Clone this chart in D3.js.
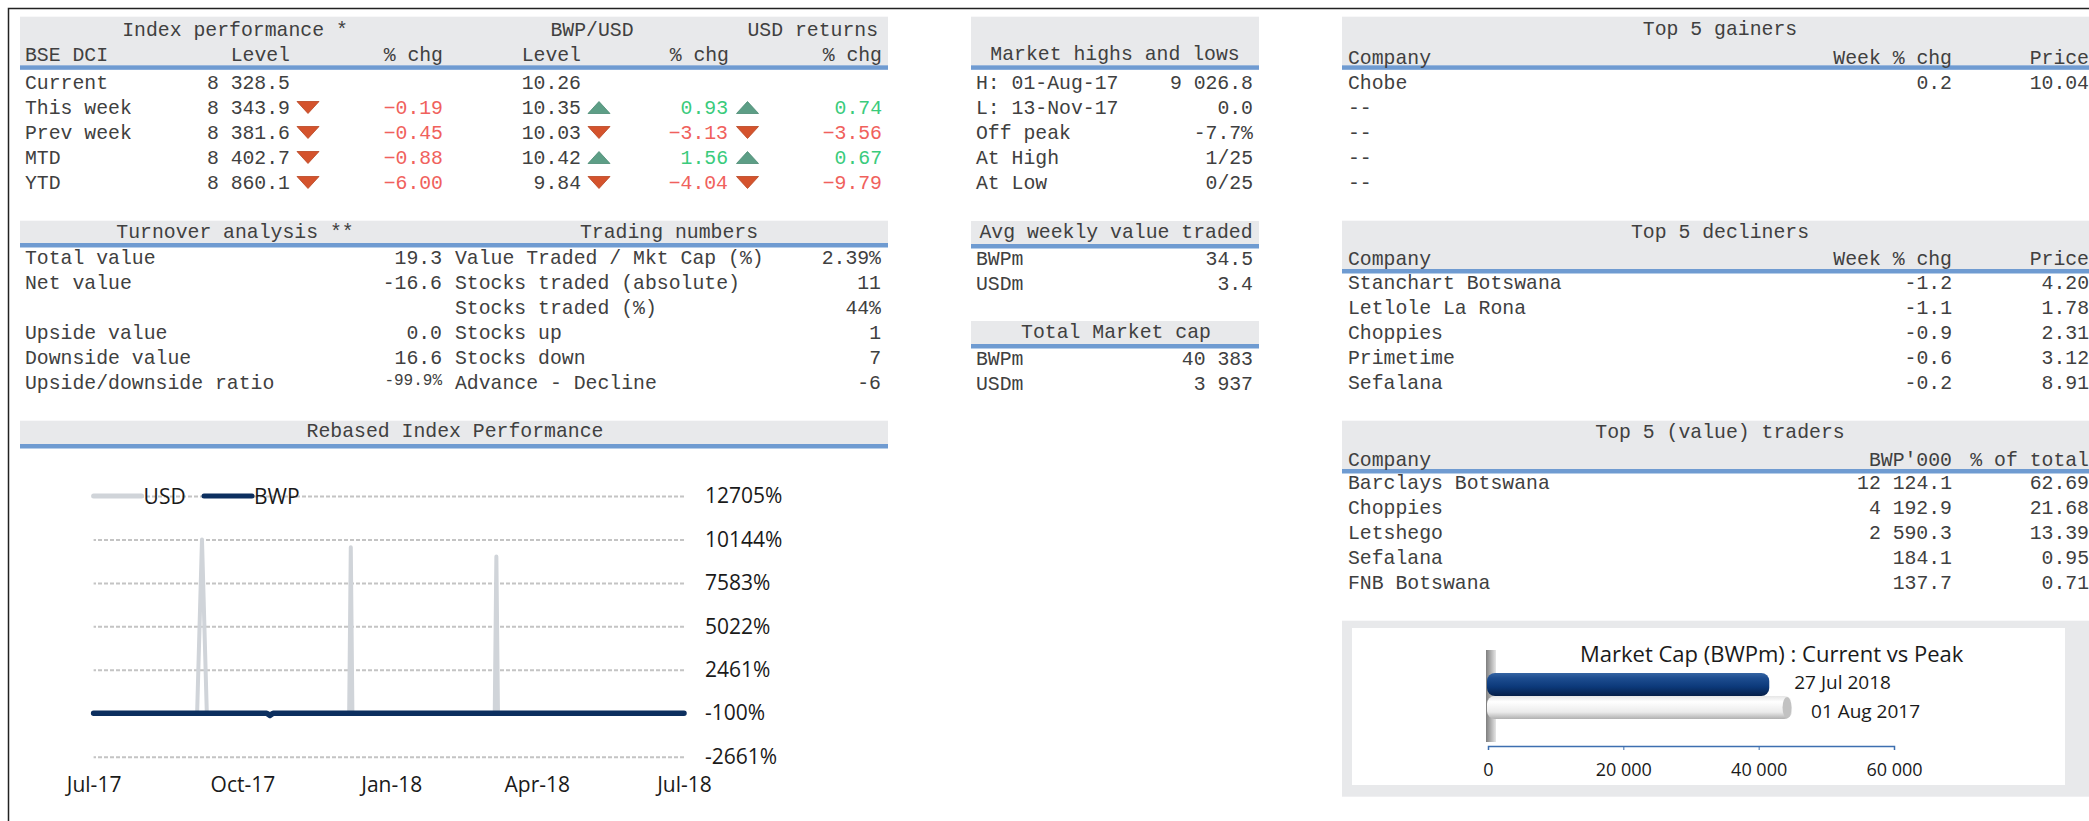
<!DOCTYPE html>
<html>
<head>
<meta charset="utf-8">
<script src="https://cdn.jsdelivr.net/npm/d3@7"></script>
<style>
  body { margin: 0; background: #fff; }
  .mono { font-family: "Liberation Mono", "Courier New", monospace; font-size: 19.8px; fill: #404040; }
  .sans { font-family: "Open Sans", sans-serif; fill: #1a1a1a; }
</style>
</head>
<body>
<div id="chart"></div>
<script>
// ---------- data ----------
const perfLabels = ["Current", "This week", "Prev week", "MTD", "YTD"]
const dciLevel = [8328.5, 8343.9, 8381.6, 8402.7, 8860.1]
const dciChg = [null, -0.19, -0.45, -0.88, -6.00]
const fxLevel = [10.26, 10.35, 10.03, 10.42, 9.84]
const fxChg = [null, 0.93, -3.13, 1.56, -4.04]
const usdChg = [null, 0.74, -3.56, 0.67, -9.79]

const turnLabels = ["Total value", "Net value", "", "Upside value", "Downside value", "Upside/downside ratio"]
const turnValues = ["19.3", "-16.6", "", "0.0", "16.6", "-99.9%"]
const tradeLabels = ["Value Traded / Mkt Cap (%)", "Stocks traded (absolute)", "Stocks traded (%)", "Stocks up", "Stocks down", "Advance - Decline"]
const tradeValues = ["2.39%", "11", "44%", "1", "7", "-6"]

const hlLabels = ["H: 01-Aug-17", "L: 13-Nov-17", "Off peak", "At High", "At Low"]
const hlValues = ["9 026.8", "0.0", "-7.7%", "1/25", "0/25"]
const avgLabels = ["BWPm", "USDm"]
const avgValues = [34.5, 3.4]
const capLabels = ["BWPm", "USDm"]
const capValues = [40383, 3937]

const gainNames = ["Chobe", "--", "--", "--", "--"]
const gainChg = [0.2]
const gainPrice = [10.04]
const declNames = ["Stanchart Botswana", "Letlole La Rona", "Choppies", "Primetime", "Sefalana"]
const declChg = [-1.2, -1.1, -0.9, -0.6, -0.2]
const declPrice = [4.20, 1.78, 2.31, 3.12, 8.91]
const tradNames = ["Barclays Botswana", "Choppies", "Letshego", "Sefalana", "FNB Botswana"]
const tradValue = [12124.1, 4192.9, 2590.3, 184.1, 137.7]
const tradPct = [62.69, 21.68, 13.39, 0.95, 0.71]

// rebased index performance (%), only the points where the lines change
const usdDates = ["2017-07-01", "2017-09-03", "2017-09-06", "2017-09-09", "2017-12-06", "2017-12-07", "2017-12-08",
                  "2018-03-06", "2018-03-07", "2018-03-08", "2018-07-01"]
const usdValues = [-100, -100, 10144, -100, -100, 9690, -100, -100, 9140, -100, -100]
const bwpDates = ["2017-07-01", "2017-10-16", "2017-10-18", "2017-10-20", "2018-07-01"]
const bwpValues = [-100, -100, -230, -100, -100]
const rebTicks = [-2661, -100, 2461, 5022, 7583, 10144, 12705]
const rebDateTicks = ["2017-07-01", "2017-10-01", "2018-01-01", "2018-04-01", "2018-07-01"]

const mcapLabels = ["27 Jul 2018", "01 Aug 2017"]
const mcapValues = [40383, 43750]
const mcapTicks = [0, 20000, 40000, 60000]

// ---------- setup ----------
const loc = d3.formatLocale({decimal: ".", thousands: " ", grouping: [3], currency: ["", ""], minus: "-"})
const f1 = loc.format(",.1f"), f2 = loc.format(".2f"), f0 = loc.format(",.0f")
// table 1 uses the long minus sign
const f2m = d3.formatLocale({decimal: ".", thousands: " ", grouping: [3], currency: ["", ""]}).format(".2f")

const GREEN = "#3acb7c", RED = "#f0615c", TRI_RED = "#d4532d", TRI_GREEN = "#5d9e86"

const svg = d3.select("#chart").append("svg")
  .attr("width", 2089).attr("height", 821)

// frame
svg.append("path").attr("d", "M8.5,821V8.5H2089")
  .attr("fill", "none").attr("stroke", "#222").attr("stroke-width", 1.5)

function band(x0, x1, y0, y1) {
  svg.append("rect").attr("x", x0).attr("y", y0).attr("width", x1 - x0).attr("height", y1 - y0).attr("fill", "#e8e9eb")
  svg.append("rect").attr("x", x0).attr("y", y1).attr("width", x1 - x0).attr("height", 4.5).attr("fill", "#6f9bd1")
}

function put(x, y, s, anchor) {
  return svg.append("text").attr("class", "mono")
    .attr("x", x).attr("y", y).attr("text-anchor", anchor || "start").text(s)
}

function column(data, x, y0, step, anchor, fmt, colorFn) {
  const t = svg.append("g").selectAll("text").data(data).join("text")
    .attr("class", "mono")
    .attr("x", x).attr("y", (d, i) => y0 + step * i)
    .attr("text-anchor", anchor)
    .text(d => d == null || d === "" ? "" : (fmt ? fmt(d) : d))
  if (colorFn) t.style("fill", d => colorFn(d))
}

function triangles(signs, cx, y0, step) {
  const pts = signs.map((s, i) => ({s, i})).filter(d => d.s != null)
  svg.append("g").selectAll("path").data(pts).join("path")
    .attr("transform", d => `translate(${cx},${y0 + step * d.i - 6.8})`)
    .attr("d", d => d.s >= 0 ? "M-11,6L11,6L0,-6Z" : "M-11,-6L11,-6L0,6Z")
    .attr("fill", d => d.s >= 0 ? TRI_GREEN : TRI_RED)
    .attr("stroke", d => d.s >= 0 ? "#4a8a72" : "#b8441f")
    .attr("stroke-width", 0.8)
}

const chgColor = d => d >= 0 ? GREEN : RED

// ---------- Index performance ----------
band(20, 888, 16.7, 65.3)
put(235, 35.5, "Index performance *", "middle")
put(592, 35.5, "BWP/USD", "middle")
put(878, 35.5, "USD returns", "end")
put(25, 60.7, "BSE DCI")
put(290, 60.7, "Level", "end")
put(443, 60.7, "% chg", "end")
put(581, 60.7, "Level", "end")
put(729, 60.7, "% chg", "end")
put(882, 60.7, "% chg", "end")
column(perfLabels, 25, 89.3, 25, "start")
column(dciLevel, 290, 89.3, 25, "end", f1)
column(dciChg, 443, 89.3, 25, "end", f2m, chgColor)
column(fxLevel, 581, 89.3, 25, "end", f2)
column(fxChg, 728, 89.3, 25, "end", f2m, chgColor)
column(usdChg, 882, 89.3, 25, "end", f2m, chgColor)
triangles(dciChg, 308, 89.3, 25)
triangles(fxChg, 599, 89.3, 25)
triangles(usdChg, 747.5, 89.3, 25)

// ---------- Turnover / trading ----------
band(20, 888, 220.7, 243)
put(235, 238.3, "Turnover analysis **", "middle")
put(669, 238.3, "Trading numbers", "middle")
column(turnLabels, 25, 264.3, 25, "start")
column(turnValues.slice(0, 5), 442, 264.3, 25, "end")
put(442, 385, turnValues[5], "end").style("font-size", "16px")
column(tradeLabels, 455, 264.3, 25, "start")
column(tradeValues, 881, 264.3, 25, "end")

// ---------- Rebased index performance ----------
band(20, 888, 420.7, 444)
put(455, 436.7, "Rebased Index Performance", "middle")

const parse = d3.timeParse("%Y-%m-%d")
const x = d3.scaleTime().domain([parse(rebDateTicks[0]), parse(rebDateTicks[4])]).range([93.6, 684])
const y = d3.scaleLinear().domain([-2661, 12705]).range([756.7, 496])

const yAxis = svg.append("g").attr("transform", "translate(684,0)")
  .call(d3.axisRight(y).tickValues(rebTicks).tickSizeInner(-590.4).tickSizeOuter(0).tickPadding(21)
    .tickFormat(d => d + "%"))
yAxis.select(".domain").remove()
yAxis.selectAll("line").attr("stroke", "#c4c4c4").attr("stroke-width", 2).attr("stroke-dasharray", "4,2")
yAxis.selectAll("text").attr("class", "sans").style("font-size", "21px")

const xAxis = svg.append("g").attr("transform", "translate(0,756.7)")
  .call(d3.axisBottom(x).tickValues(rebDateTicks.map(parse)).tickSize(0).tickPadding(20)
    .tickFormat(d3.timeFormat("%b-%y")))
xAxis.select(".domain").remove()
xAxis.selectAll("text").attr("class", "sans").style("font-size", "21px")

const line = d3.line().x(d => x(d.date)).y(d => y(d.value))
const usdSeries = usdDates.map((d, i) => ({date: parse(d), value: usdValues[i]}))
const bwpSeries = bwpDates.map((d, i) => ({date: parse(d), value: bwpValues[i]}))
svg.append("path").datum(usdSeries).attr("d", line)
  .attr("fill", "none").attr("stroke", "#d0d4d9").attr("stroke-width", 4).attr("stroke-linejoin", "round")
svg.append("path").datum(bwpSeries).attr("d", line)
  .attr("fill", "none").attr("stroke", "#0c2f5f").attr("stroke-width", 5.5)
  .attr("stroke-linecap", "round").attr("stroke-linejoin", "round")

// legend
const legendItems = [{name: "USD", color: "#d0d4d9", x0: 93.6}, {name: "BWP", color: "#0c2f5f", x0: 204}]
const lg = svg.append("g").selectAll("g").data(legendItems).join("g")
  .attr("transform", d => `translate(${d.x0},496)`)
lg.append("line").attr("x1", 0).attr("x2", 48).attr("stroke", d => d.color)
  .attr("stroke-width", 5).attr("stroke-linecap", "round")
lg.append("text").attr("class", "sans").attr("x", 50).attr("y", 7.5)
  .style("font-size", "21px").text(d => d.name)

// ---------- middle tables ----------
band(971, 1259, 16.7, 65.3)
put(1115, 60, "Market highs and lows", "middle")
column(hlLabels, 976, 89.3, 25, "start")
column(hlValues, 1253, 89.3, 25, "end")

band(971, 1259, 221, 244)
put(1116, 238.3, "Avg weekly value traded", "middle")
column(avgLabels, 976, 265, 25, "start")
column(avgValues, 1253, 265, 25, "end", f1)

band(971, 1259, 321, 344)
put(1116, 338.3, "Total Market cap", "middle")
column(capLabels, 976, 365, 25, "start")
column(capValues, 1253, 365, 25, "end", f0)

// ---------- right tables ----------
band(1342, 2089, 16.7, 65.3)
put(1720, 35, "Top 5 gainers", "middle")
put(1348, 64, "Company")
put(1952, 64, "Week % chg", "end")
put(2089, 64, "Price", "end")
column(gainNames, 1348, 89.3, 25, "start")
column(gainChg, 1952, 89.3, 25, "end", f1)
column(gainPrice, 2089, 89.3, 25, "end", f2)

band(1342, 2089, 220.7, 269)
put(1720, 238.3, "Top 5 decliners", "middle")
put(1348, 265, "Company")
put(1952, 265, "Week % chg", "end")
put(2089, 265, "Price", "end")
column(declNames, 1348, 289, 25, "start")
column(declChg, 1952, 289, 25, "end", f1)
column(declPrice, 2089, 289, 25, "end", f2)

band(1342, 2089, 420.7, 469)
put(1720, 438, "Top 5 (value) traders", "middle")
put(1348, 465.5, "Company")
put(1952, 465.5, "BWP'000", "end")
put(2089, 465.5, "% of total", "end")
column(tradNames, 1348, 489, 25, "start")
column(tradValue, 1952, 489, 25, "end", f1)
column(tradPct, 2089, 489, 25, "end", f2)

// ---------- market cap chart ----------
svg.append("rect").attr("x", 1342).attr("y", 620.7).attr("width", 747).attr("height", 176).attr("fill", "#e8e9eb")
svg.append("rect").attr("x", 1352).attr("y", 628).attr("width", 713).attr("height", 157).attr("fill", "#fff")

const defs = svg.append("defs")
function grad(id, stops, horiz) {
  const g = defs.append("linearGradient").attr("id", id)
    .attr("x1", 0).attr("y1", 0).attr("x2", horiz ? 1 : 0).attr("y2", horiz ? 0 : 1)
  stops.forEach(s => g.append("stop").attr("offset", s[0]).attr("stop-color", s[1]))
}
grad("gDark", [["0%", "#3564a3"], ["22%", "#1d4d90"], ["60%", "#0c397a"], ["100%", "#061f48"]])
grad("gLight", [["0%", "#e6e6e6"], ["25%", "#ffffff"], ["70%", "#ebebeb"], ["100%", "#b0b0b0"]])
grad("gWall", [["0%", "#7e7e7e"], ["60%", "#bdbdbd"], ["100%", "#e6e6e6"]], true)

const mx = d3.scaleLinear().domain([0, 60000]).range([1488, 1894])
const my = d3.scaleBand().domain(mcapLabels).range([673, 719]).padding(0)

svg.append("rect").attr("x", 1486).attr("y", 650).attr("width", 10).attr("height", 92).attr("fill", "url(#gWall)")

svg.append("text").attr("class", "sans").attr("x", 1580).attr("y", 662)
  .style("font-size", "22px").text("Market Cap (BWPm) : Current vs Peak")

const bars = svg.append("g").selectAll("g").data(mcapLabels).join("g")
bars.append("rect")
  .attr("x", mx(0) - 1).attr("y", d => my(d))
  .attr("width", (d, i) => mx(mcapValues[i]) - mx(0) + 9)
  .attr("height", my.bandwidth())
  .attr("rx", 8)
  .attr("fill", (d, i) => i === 0 ? "url(#gDark)" : "url(#gLight)")
bars.filter((d, i) => i === 1).append("ellipse")
  .attr("cx", mx(mcapValues[1]) + 3)
  .attr("cy", d => my(d) + my.bandwidth() / 2)
  .attr("rx", 4.5).attr("ry", my.bandwidth() / 2 - 1)
  .attr("fill", "#c2c2c2")
bars.append("text").attr("class", "sans")
  .attr("x", (d, i) => mx(mcapValues[i]) + (i === 0 ? 33 : 27))
  .attr("y", (d, i) => my(d) + my.bandwidth() / 2 + (i === 0 ? 4 : 10))
  .style("font-size", "19px").text(d => d)

const mAxis = svg.append("g").attr("transform", "translate(0,746)")
  .call(d3.axisBottom(mx).tickValues(mcapTicks).tickSize(4).tickPadding(13).tickFormat(f0))
mAxis.select(".domain").attr("stroke", "#3d6fb0").attr("stroke-width", 1.5)
mAxis.selectAll("line").attr("stroke", "#3d6fb0")
mAxis.selectAll("text").attr("class", "sans").style("font-size", "18px")
</script>
</body>
</html>
